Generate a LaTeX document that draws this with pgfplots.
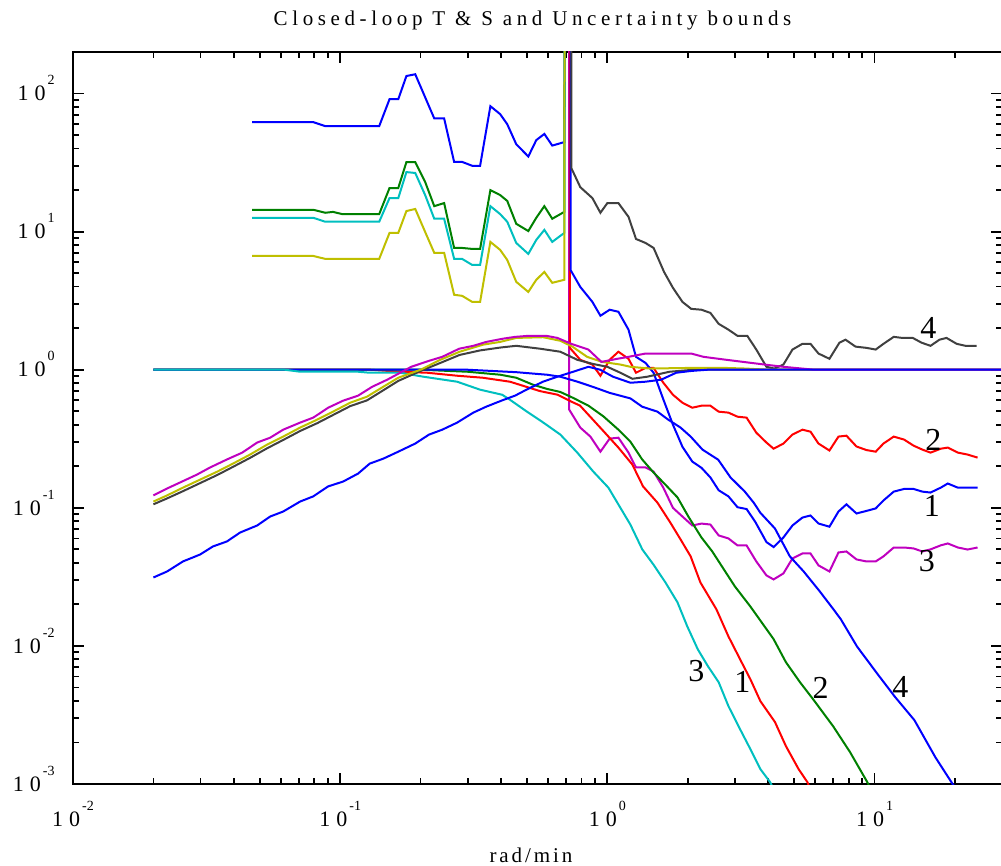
\documentclass[border=0pt]{standalone}
\usepackage{fontspec}
\setmainfont{Liberation Serif}
\newfontfamily\spacedA[LetterSpace=22]{Liberation Serif}
\newfontfamily\spacedB[LetterSpace=14]{Liberation Serif}
\usepackage{pgfplots}
\pgfplotsset{compat=1.18}
\definecolor{mblue}{rgb}{0,0,1}
\definecolor{mgreen}{rgb}{0,0.5,0}
\definecolor{mred}{rgb}{1,0,0}
\definecolor{mcyan}{rgb}{0,0.75,0.75}
\definecolor{mmag}{rgb}{0.75,0,0.75}
\definecolor{myel}{rgb}{0.75,0.75,0}
\definecolor{mgray}{rgb}{0.25,0.25,0.25}
\definecolor{sblue}{RGB}{60,60,210}
\newcommand{\tl}[1]{1\hspace{3pt}0\hspace{1pt}\raisebox{8pt}{\fontsize{7}{7}\selectfont #1}}
\begin{document}
\begin{tikzpicture}
\useasboundingbox (-36.5pt,-41pt) rectangle (464pt,392pt);
\begin{axis}[
  at={(0,0)}, anchor=south west,
  scale only axis, width=464.5pt, height=366pt,
  xmode=log, ymode=log,
  xmin=0.01, xmax=30, ymin=0.001, ymax=200,
  xtick={0.01,0.1,1,10},
  xticklabels={\tl{-2},\tl{-1},\tl{0},\tl{1}},
  ytick={0.001,0.01,0.1,1,10,100},
  yticklabels={\tl{-3},\tl{-2},\tl{-1},\tl{0},\tl{1},\tl{2}},
  minor xtick={0.02,0.03,0.04,0.05,0.06,0.07,0.08,0.09,0.2,0.3,0.4,0.5,0.6,0.7,0.8,0.9,2,3,4,5,6,7,8,9,20},
  minor ytick={0.002,0.003,0.004,0.005,0.006,0.007,0.008,0.009,0.02,0.03,0.04,0.05,0.06,0.07,0.08,0.09,0.2,0.3,0.4,0.5,0.6,0.7,0.8,0.9,2,3,4,5,6,7,8,9,20,30,40,50,60,70,80,90},
  tick align=inside,
  major tick length=5.5pt, minor tick length=3pt,
  every tick/.style={black, line width=0.9pt},
  axis line style={line width=1.2pt},
  tick label style={font=\fontsize{11}{12}\selectfont},
  xticklabel style={anchor=base, inner sep=0pt, yshift=-21pt},
  yticklabel style={anchor=base east, inner sep=0pt, xshift=-9pt, yshift=-3.6pt},
  title={Closed-loop T \& S and Uncertainty bounds},
  title style={at={(axis description cs:0.4946,1)}, anchor=base, yshift=7pt, font=\spacedA\fontsize{10.5}{12}\selectfont},
  xlabel={rad/min},
  xlabel style={at={(axis description cs:0.493,0)}, anchor=base, yshift=-39pt, font=\spacedB\fontsize{10.5}{12}\selectfont},
  every axis plot/.append style={line width=1pt},
]
% ---- uncertainty bounds, low-frequency part
\addplot[mblue] coordinates {(0.0468,62.1) (0.0793,62.1) (0.0879,58.1) (0.140,58.1) (0.153,91) (0.165,91) (0.177,134) (0.191,138) (0.208,94) (0.225,66) (0.245,66) (0.267,32) (0.286,32) (0.312,30) (0.334,30) (0.365,81) (0.397,71) (0.422,60) (0.456,43) (0.506,35) (0.542,46) (0.581,51) (0.622,42) (0.690,44.5) (0.694,1000)};
\addplot[mgreen] coordinates {(0.0468,14.4) (0.0793,14.4) (0.0879,13.7) (0.094,13.9) (0.1017,13.4) (0.140,13.4) (0.153,20.7) (0.165,20.7) (0.177,31.9) (0.191,31.9) (0.208,22.9) (0.225,15.3) (0.245,16.1) (0.267,7.62) (0.286,7.62) (0.312,7.50) (0.334,7.50) (0.365,20.0) (0.397,18.4) (0.422,16.7) (0.456,11.4) (0.506,10.1) (0.542,12.6) (0.581,15.3) (0.622,12.4) (0.690,13.9) (0.693,1000)};
\addplot[mcyan] coordinates {(0.0468,12.6) (0.0793,12.6) (0.0879,11.8) (0.140,11.8) (0.153,17.5) (0.165,17.5) (0.177,27.0) (0.191,26.6) (0.208,18.4) (0.225,12.4) (0.245,12.4) (0.267,6.35) (0.286,6.35) (0.312,5.74) (0.334,5.74) (0.365,15.3) (0.397,13.4) (0.422,11.8) (0.456,8.28) (0.506,6.90) (0.542,8.71) (0.581,10.3) (0.622,8.43) (0.690,9.79) (0.693,1000)};
\addplot[myel] coordinates {(0.0468,6.67) (0.0793,6.67) (0.0879,6.35) (0.140,6.35) (0.153,9.79) (0.165,9.79) (0.177,14.1) (0.191,14.6) (0.208,9.95) (0.225,7.02) (0.245,7.02) (0.267,3.49) (0.286,3.43) (0.312,3.10) (0.334,3.10) (0.365,8.43) (0.397,7.38) (0.422,6.24) (0.456,4.33) (0.506,3.66) (0.542,4.48) (0.581,5.11) (0.622,4.26) (0.690,4.48) (0.692,1000)};
% ---- uncertainty bounds, high-frequency part
\addplot[mmag] coordinates {(0.72,1000) (0.72,0.514) (0.792,0.381) (0.864,0.328) (0.942,0.255) (1.02,0.317) (1.10,0.322) (1.20,0.251) (1.28,0.196) (1.39,0.196) (1.49,0.183) (1.62,0.140) (1.76,0.100) (1.91,0.0865) (2.08,0.0745) (2.25,0.0769) (2.43,0.0757) (2.61,0.0631) (2.84,0.060) (3.07,0.0534) (3.32,0.0534) (3.61,0.0409) (3.94,0.0324) (4.19,0.0303) (4.56,0.0335) (4.93,0.043) (5.37,0.0467) (5.76,0.0467) (6.17,0.0383) (6.78,0.0346) (7.33,0.0475) (7.85,0.0483) (8.56,0.0423) (9.33,0.0409) (10.1,0.0409) (10.8,0.0445) (11.8,0.0516) (12.9,0.0516) (14.0,0.0508) (15.1,0.0483) (16.2,0.0500) (17.7,0.0535) (18.8,0.0552) (20.5,0.0516) (22.3,0.0499) (24.3,0.0516)};
\addplot[mred] coordinates {(0.724,1000) (0.724,1.44) (0.792,1.18) (0.879,1.09) (0.942,0.905) (1.02,1.18) (1.10,1.35) (1.20,1.20) (1.28,0.951) (1.39,1.03) (1.49,1.03) (1.62,0.805) (1.76,0.659) (1.91,0.577) (2.08,0.531) (2.25,0.549) (2.43,0.549) (2.61,0.497) (2.84,0.489) (3.07,0.457) (3.32,0.450) (3.61,0.350) (3.94,0.297) (4.19,0.268) (4.56,0.292) (4.93,0.339) (5.37,0.368) (5.76,0.356) (6.17,0.292) (6.78,0.260) (7.33,0.328) (7.85,0.333) (8.56,0.278) (9.33,0.262) (10.1,0.255) (10.8,0.292) (11.8,0.328) (12.9,0.312) (14.0,0.282) (15.1,0.264) (16.2,0.251) (17.7,0.268) (18.8,0.273) (20.5,0.251) (22.3,0.243) (24.3,0.231)};
\addplot[mblue] coordinates {(0.728,1000) (0.728,5.28) (0.792,3.98) (0.879,3.10) (0.942,2.46) (1.02,2.72) (1.10,2.63) (1.20,1.95) (1.28,1.24) (1.39,1.12) (1.49,0.95) (1.62,0.61) (1.76,0.40) (1.91,0.277) (2.08,0.216) (2.25,0.195) (2.43,0.166) (2.61,0.134) (2.84,0.121) (3.07,0.101) (3.32,0.098) (3.58,0.079) (3.94,0.0565) (4.19,0.052) (4.56,0.061) (4.93,0.0745) (5.37,0.085) (5.76,0.088) (6.17,0.077) (6.78,0.073) (7.33,0.094) (7.85,0.106) (8.56,0.091) (9.33,0.095) (10.1,0.099) (10.8,0.113) (11.8,0.131) (12.9,0.137) (14.0,0.137) (15.1,0.131) (16.2,0.129) (17.7,0.140) (18.8,0.150) (20.5,0.140) (22.3,0.140) (24.3,0.140)};
\addplot[mgray] coordinates {(0.733,1000) (0.733,28.9) (0.792,21.0) (0.879,17.5) (0.942,13.7) (1.00,16.1) (1.10,16.1) (1.20,12.8) (1.28,8.85) (1.39,8.28) (1.49,7.62) (1.63,5.11) (1.76,3.92) (1.91,3.10) (2.06,2.76) (2.25,2.72) (2.43,2.58) (2.61,2.15) (2.84,1.95) (3.07,1.76) (3.34,1.76) (3.61,1.40) (3.94,1.05) (4.22,1.02) (4.56,1.09) (4.93,1.40) (5.37,1.54) (5.76,1.54) (6.17,1.31) (6.78,1.20) (7.39,1.57) (7.79,1.65) (8.49,1.47) (9.33,1.44) (10.1,1.40) (10.8,1.54) (11.8,1.73) (12.7,1.70) (13.9,1.70) (15.0,1.57) (16.2,1.49) (17.5,1.65) (18.6,1.70) (20.3,1.54) (21.9,1.49) (24.1,1.49)};
% ---- complementary sensitivity T
\addplot[mred] coordinates {(0.02,1) (0.13,1) (0.168,0.967) (0.212,0.951) (0.274,0.905) (0.342,0.875) (0.432,0.819) (0.50,0.75) (0.56,0.70) (0.65,0.66) (0.73,0.59) (0.79,0.55) (0.86,0.46) (0.966,0.36) (1.10,0.273) (1.24,0.206) (1.36,0.143) (1.54,0.109) (1.72,0.0783) (1.88,0.059) (2.05,0.0445) (2.23,0.0288) (2.56,0.0184) (2.84,0.0117) (3.18,0.00762) (3.43,0.00574) (3.74,0.00398) (4.24,0.00281) (4.66,0.00188) (5.20,0.00128) (5.61,0.00103) (5.7,0.00095)};
\addplot[mgreen] coordinates {(0.02,1) (0.2,1) (0.3,0.967) (0.398,0.92) (0.456,0.875) (0.527,0.779) (0.595,0.726) (0.667,0.69) (0.745,0.625) (0.85,0.549) (0.966,0.46) (1.10,0.368) (1.22,0.301) (1.35,0.224) (1.49,0.180) (1.65,0.147) (1.83,0.119) (2.01,0.0865) (2.25,0.061) (2.47,0.0483) (2.73,0.0358) (3.0,0.027) (3.43,0.0193) (4.19,0.0112) (4.66,0.00762) (5.26,0.00546) (5.89,0.00411) (7.0,0.00262) (8.1,0.0017) (9.4,0.00103) (9.6,0.00095)};
\addplot[mblue] coordinates {(0.02,1) (0.3,1) (0.456,0.96) (0.595,0.92) (0.667,0.89) (0.772,0.82) (0.886,0.75) (1.02,0.68) (1.22,0.62) (1.35,0.54) (1.54,0.497) (1.69,0.435) (1.88,0.381) (2.05,0.328) (2.27,0.264) (2.60,0.223) (2.89,0.166) (3.27,0.131) (3.53,0.109) (3.74,0.092) (4.24,0.0708) (4.82,0.0445) (5.43,0.0346) (6.24,0.0248) (7.02,0.0184) (7.48,0.0156) (8.6,0.0099) (10.3,0.0062) (11.9,0.0043) (14.1,0.0029) (16.9,0.00156) (19.6,0.001) (20,0.00095)};
\addplot[mcyan] coordinates {(0.02,1) (0.062,1) (0.071,0.967) (0.117,0.967) (0.129,0.951) (0.168,0.951) (0.205,0.89) (0.274,0.819) (0.334,0.717) (0.404,0.659) (0.43,0.61) (0.498,0.50) (0.56,0.43) (0.591,0.400) (0.667,0.339) (0.772,0.251) (0.886,0.183) (1.009,0.14) (1.119,0.100) (1.219,0.0757) (1.352,0.0499) (1.487,0.0389) (1.65,0.0288) (1.83,0.0207) (1.99,0.0139) (2.18,0.00945) (2.38,0.00712) (2.61,0.00546) (2.84,0.00366) (3.14,0.00249) (3.43,0.00179) (3.74,0.00128) (4.07,0.00103) (4.15,0.00095)};
% ---- sensitivity S
\addplot[mgray] coordinates {(0.02,0.106) (0.0225,0.117) (0.0258,0.132) (0.0299,0.151) (0.0347,0.173) (0.0397,0.198) (0.046,0.23) (0.0533,0.27) (0.0612,0.31) (0.0708,0.36) (0.082,0.41) (0.094,0.47) (0.109,0.545) (0.126,0.60) (0.145,0.71) (0.165,0.83) (0.2,0.98) (0.237,1.12) (0.28,1.28) (0.334,1.38) (0.40,1.45) (0.456,1.49) (0.56,1.42) (0.667,1.35) (0.772,1.18) (0.886,1.10) (1.0,1.05) (1.12,0.95) (1.24,0.86) (1.41,0.89) (1.71,0.967) (2.1,1.0) (30,1.0)};
\addplot[myel] coordinates {(0.020,0.111) (0.0225,0.123) (0.0258,0.140) (0.0299,0.160) (0.0347,0.183) (0.0397,0.209) (0.0460,0.243) (0.0533,0.287) (0.0612,0.328) (0.0708,0.381) (0.082,0.435) (0.094,0.497) (0.109,0.577) (0.126,0.638) (0.145,0.753) (0.165,0.875) (0.2,1.0) (0.237,1.18) (0.28,1.35) (0.343,1.52) (0.397,1.59) (0.456,1.70) (0.575,1.72) (0.667,1.62) (0.74,1.47) (0.84,1.24) (0.955,1.14) (1.12,1.09) (1.22,1.05) (1.44,1.02) (1.99,1.03) (2.79,1.03) (3.29,1.02) (4.0,1.0) (30,1.0)};
\addplot[mmag] coordinates {(0.02,0.123) (0.0225,0.138) (0.0256,0.155) (0.0291,0.174) (0.0326,0.196) (0.0377,0.224) (0.043,0.251) (0.0489,0.297) (0.0547,0.322) (0.0612,0.368) (0.0708,0.414) (0.0793,0.45) (0.0902,0.531) (0.1026,0.597) (0.1167,0.649) (0.1318,0.753) (0.150,0.847) (0.165,0.935) (0.1845,1.05) (0.215,1.16) (0.241,1.24) (0.279,1.42) (0.315,1.49) (0.352,1.59) (0.408,1.68) (0.452,1.73) (0.506,1.76) (0.591,1.76) (0.650,1.70) (0.733,1.54) (0.849,1.40) (0.950,1.14) (1.09,1.20) (1.20,1.24) (1.39,1.31) (1.69,1.31) (2.06,1.31) (2.29,1.24) (2.79,1.18) (3.88,1.09) (4.56,1.05) (5.96,1.0) (30,1.0)};
\addplot[mblue] coordinates {(0.02,0.0313) (0.0225,0.0346) (0.0258,0.0409) (0.0299,0.0459) (0.0334,0.0525) (0.0377,0.0571) (0.0422,0.0662) (0.0489,0.0745) (0.0547,0.0865) (0.0612,0.094) (0.0708,0.111) (0.0793,0.121) (0.0902,0.143) (0.1026,0.155) (0.1167,0.177) (0.129,0.209) (0.145,0.227) (0.165,0.255) (0.191,0.292) (0.215,0.339) (0.241,0.368) (0.274,0.414) (0.315,0.489) (0.352,0.540) (0.404,0.600) (0.452,0.650) (0.50,0.72) (0.575,0.82) (0.65,0.89) (0.745,0.967) (0.849,1.05) (0.94,1.0) (1.05,0.89) (1.22,0.805) (1.39,0.819) (1.59,0.847) (1.81,0.951) (2.06,0.98) (2.37,1.0) (30,1.0)};
% ---- curve labels
\node[font=\fontsize{16}{16}\selectfont] at (axis cs:15.9,2.01) {4};
\node[font=\fontsize{16}{16}\selectfont] at (axis cs:16.6,0.312) {2};
\node[font=\fontsize{16}{16}\selectfont] at (axis cs:16.4,0.104) {1};
\node[font=\fontsize{16}{16}\selectfont] at (axis cs:15.7,0.0409) {3};
\node[font=\fontsize{16}{16}\selectfont] at (axis cs:2.155,0.00655) {3};
\node[font=\fontsize{16}{16}\selectfont] at (axis cs:3.20,0.00546) {1};
\node[font=\fontsize{16}{16}\selectfont] at (axis cs:6.28,0.00494) {2};
\node[font=\fontsize{16}{16}\selectfont] at (axis cs:12.5,0.00502) {4};
\node[anchor=base east, inner sep=0pt, font=\fontsize{19}{20}\selectfont, text=sblue, xshift=-29.5pt, yshift=324.5pt] at (rel axis cs:0,0) {S};
\end{axis}
\end{tikzpicture}
\end{document}
